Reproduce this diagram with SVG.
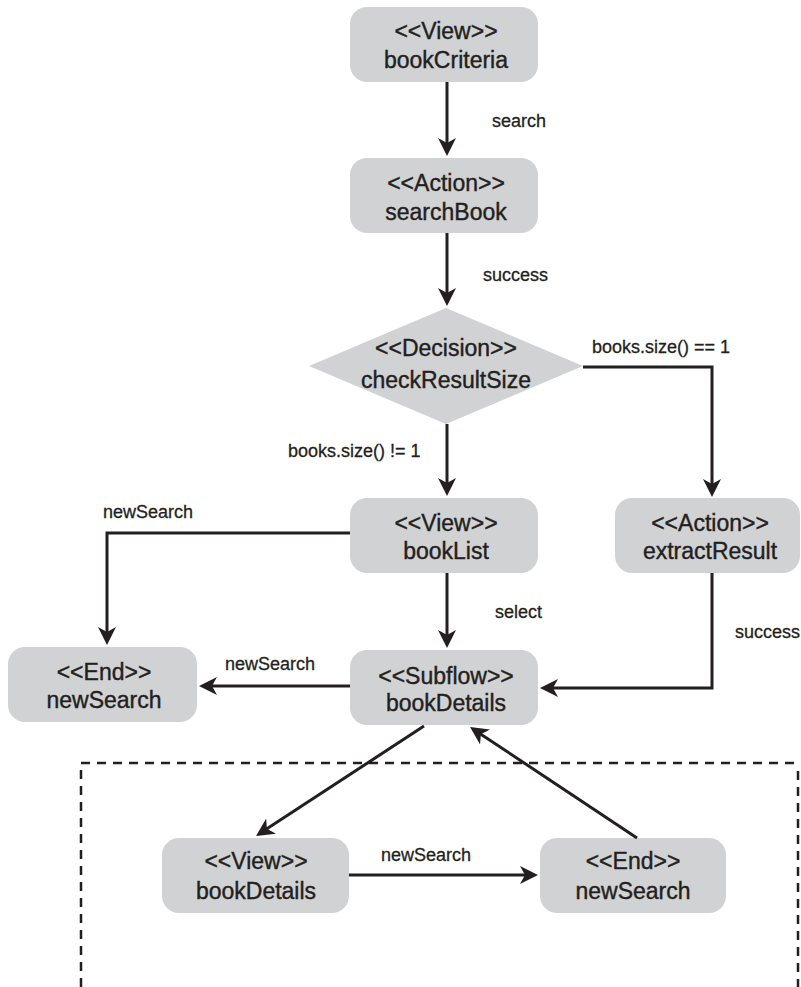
<svg xmlns="http://www.w3.org/2000/svg" width="801" height="987" viewBox="0 0 801 987">
<style>
.box{fill:#d1d2d4;}
.nt{font-family:"Liberation Sans",Arial,sans-serif;font-size:23px;fill:#231f20;stroke:#231f20;stroke-width:0.4;text-anchor:middle;}
.el{font-family:"Liberation Sans",Arial,sans-serif;font-size:18px;fill:#231f20;stroke:#231f20;stroke-width:0.3;}
.c{fill:none;stroke:#231f20;stroke-width:3;}
.dash{fill:none;stroke:#231f20;stroke-width:2.5;stroke-dasharray:9 7;}
</style>
<defs>
<marker id="ah" markerUnits="userSpaceOnUse" viewBox="0 0 18 18" refX="10" refY="9" markerWidth="18" markerHeight="18" orient="auto">
<path d="M0,0 L18,9 L0,18 L5,9 z" fill="#231f20"/>
</marker>
</defs>
<rect width="801" height="987" fill="#ffffff"/>
<g id="subflow-frame">
<path class="dash" d="M81,987 V763 H801"/>
<path class="dash" d="M798,771 V987"/>
</g>
<g id="bookCriteria">
<rect class="box" x="350" y="7" width="188" height="75" rx="17"/>
<text class="nt" x="446" y="39">&lt;&lt;View&gt;&gt;</text>
<text class="nt" x="446" y="68">bookCriteria</text>
</g>
<g id="searchBook">
<rect class="box" x="350" y="158" width="188" height="75" rx="17"/>
<text class="nt" x="446" y="191">&lt;&lt;Action&gt;&gt;</text>
<text class="nt" x="446" y="220">searchBook</text>
</g>
<g id="checkResultSize">
<polygon class="box" points="446,308 583,366 446,424 309,366"/>
<text class="nt" x="446" y="356">&lt;&lt;Decision&gt;&gt;</text>
<text class="nt" x="446" y="388">checkResultSize</text>
</g>
<g id="bookList">
<rect class="box" x="350" y="498" width="188" height="75" rx="17"/>
<text class="nt" x="446" y="531">&lt;&lt;View&gt;&gt;</text>
<text class="nt" x="446" y="559">bookList</text>
</g>
<g id="extractResult">
<rect class="box" x="615" y="498" width="185" height="75" rx="17"/>
<text class="nt" x="710" y="531">&lt;&lt;Action&gt;&gt;</text>
<text class="nt" x="710" y="559">extractResult</text>
</g>
<g id="bookDetails">
<rect class="box" x="350" y="650" width="188" height="75" rx="17"/>
<text class="nt" x="446" y="684">&lt;&lt;Subflow&gt;&gt;</text>
<text class="nt" x="446" y="711">bookDetails</text>
</g>
<g id="newSearchEnd">
<rect class="box" x="8" y="647" width="189" height="75" rx="17"/>
<text class="nt" x="104" y="680">&lt;&lt;End&gt;&gt;</text>
<text class="nt" x="104" y="708">newSearch</text>
</g>
<g id="bookDetailsView">
<rect class="box" x="162" y="838" width="187" height="75" rx="17"/>
<text class="nt" x="256" y="869">&lt;&lt;View&gt;&gt;</text>
<text class="nt" x="256" y="899">bookDetails</text>
</g>
<g id="newSearchEndSub">
<rect class="box" x="540" y="838" width="186" height="75" rx="17"/>
<text class="nt" x="633" y="869">&lt;&lt;End&gt;&gt;</text>
<text class="nt" x="633" y="899">newSearch</text>
</g>
<g id="connectors">
<path class="c" marker-end="url(#ah)" d="M447,82 V148"/>
<path class="c" marker-end="url(#ah)" d="M447,233 V298"/>
<path class="c" marker-end="url(#ah)" d="M447,424 V488"/>
<path class="c" marker-end="url(#ah)" d="M583,367 H712 V489"/>
<path class="c" marker-end="url(#ah)" d="M447,573 V640"/>
<path class="c" marker-end="url(#ah)" d="M350,533 H107 V637"/>
<path class="c" marker-end="url(#ah)" d="M350,686 H207"/>
<path class="c" marker-end="url(#ah)" d="M712,573 V688 H548"/>
<path class="c" stroke-width="2.5" marker-end="url(#ah)" d="M424,726 L262.7,831.6"/>
<path class="c" stroke-width="2.5" marker-end="url(#ah)" d="M637,838 L476.7,731.4"/>
<path class="c" marker-end="url(#ah)" d="M349,875 H530"/>
<text class="el" x="492" y="127">search</text>
<text class="el" x="483" y="281">success</text>
<text class="el" x="592" y="353">books.size() == 1</text>
<text class="el" x="288" y="457">books.size() != 1</text>
<text class="el" x="103" y="518">newSearch</text>
<text class="el" x="495" y="618">select</text>
<text class="el" x="225" y="670">newSearch</text>
<text class="el" x="735" y="638">success</text>
<text class="el" x="381" y="861">newSearch</text>
</g>
</svg>
